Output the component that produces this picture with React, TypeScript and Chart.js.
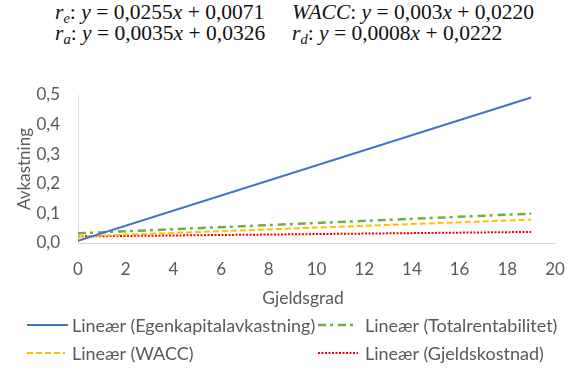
import React, { useEffect, useRef } from "react";
import { Chart, registerables } from "chart.js";

Chart.register(...registerables);

// Trendline endpoints (x = gjeldsgrad) taken from the regression equations
const gearing = [0, 19];
const egenkapital = [0.0071, 0.4916];
const totalrentabilitet = [0.0326, 0.0991];
const wacc = [0.022, 0.079];
const gjeldskostnad = [0.0222, 0.0374];

const seriesNames = [
  "Lineær (Egenkapitalavkastning)",
  "Lineær (Totalrentabilitet)",
  "Lineær (WACC)",
  "Lineær (Gjeldskostnad)",
];
const seriesColors = ["#4472C4", "#70AD47", "#FFC000", "#FF0000"];
const seriesDash: number[][] = [[], [8, 4, 3, 5], [6, 3], [2, 1.5]];
const seriesWidth = [2, 2.5, 2, 2];

const xMin = 0;
const xMax = 20;
const xStep = 2;
const yMin = 0;
const yMax = 0.5;
const yStep = 0.1;

const xTitle = "Gjeldsgrad";
const yTitle = "Avkastning";

const textGray = "#595959";
const uiFont = "Lato, 'Open Sans', sans-serif";

const toPoints = (ys: number[]) => gearing.map((x, i) => ({ x, y: ys[i] }));
const seriesValues = [egenkapital, totalrentabilitet, wacc, gjeldskostnad];

function Equation(props: { top: number; left: number; sym: React.ReactNode; slope: string; icept: string }) {
  return (
    <div
      style={{
        position: "absolute",
        left: props.left,
        top: props.top,
        fontFamily: "'Liberation Serif', 'DejaVu Serif', serif",
        fontSize: 21.5,
        lineHeight: "21px",
        color: "#111",
        whiteSpace: "nowrap",
      }}
    >
      {props.sym}: <i>y</i> = {props.slope}
      <i>x</i> + {props.icept}
    </div>
  );
}

const Sub = (p: { base: string; sub: string }) => (
  <span>
    <i>{p.base}</i>
    <i style={{ fontSize: "0.68em", verticalAlign: "-0.28em", lineHeight: 0 }}>{p.sub}</i>
  </span>
);

function LegendItem(props: { idx: number; left: number; top: number; sampleW: number; gap: number }) {
  const { idx } = props;
  return (
    <div
      style={{
        position: "absolute",
        left: props.left,
        top: props.top - 11,
        height: 22,
        display: "flex",
        alignItems: "center",
        fontFamily: uiFont,
        fontSize: 18,
        color: textGray,
        whiteSpace: "nowrap",
      }}
    >
      <svg width={props.sampleW} height={22} style={{ display: "block" }}>
        <line
          x1={0}
          y1={11}
          x2={props.sampleW}
          y2={11}
          stroke={seriesColors[idx]}
          strokeWidth={seriesWidth[idx]}
          strokeDasharray={seriesDash[idx].length ? seriesDash[idx].join(" ") : undefined}
        />
      </svg>
      <span style={{ marginLeft: props.gap }}>{seriesNames[idx]}</span>
    </div>
  );
}

export default function App() {
  const canvasRef = useRef<HTMLCanvasElement | null>(null);

  useEffect(() => {
    document.body.style.margin = "0";
    const canvas = canvasRef.current;
    if (!canvas) return;
    const chart = new Chart(canvas, {
      type: "scatter",
      data: {
        datasets: seriesValues.map((ys, i) => ({
          label: seriesNames[i],
          data: toPoints(ys),
          showLine: true,
          borderColor: seriesColors[i],
          backgroundColor: seriesColors[i],
          borderWidth: seriesWidth[i],
          borderDash: seriesDash[i],
          pointRadius: 0,
          pointHoverRadius: 0,
          fill: false,
        })),
      },
      options: {
        animation: false,
        responsive: false,
        maintainAspectRatio: false,
        layout: { padding: { left: 0, right: 18, top: 95, bottom: 0 } },
        plugins: { legend: { display: false }, tooltip: { enabled: false } },
        scales: {
          x: {
            type: "linear",
            min: xMin,
            max: xMax,
            grid: { display: false, drawTicks: false },
            border: { display: true, color: "#D9D9D9", width: 1 },
            ticks: {
              stepSize: xStep,
              padding: 16,
              color: textGray,
              font: { family: uiFont, size: 17 },
              maxRotation: 0,
            },
            afterFit: (scale: any) => {
              scale.height = 67;
              scale.paddingLeft = 0;
              scale.paddingRight = 0;
            },
          },
          y: {
            min: yMin,
            max: yMax,
            grid: { display: false, drawTicks: false },
            border: { display: true, color: "#D9D9D9", width: 1 },
            ticks: {
              stepSize: yStep,
              padding: 18,
              color: textGray,
              font: { family: uiFont, size: 17 },
              callback: (v: any) => Number(v).toFixed(1).replace(".", ","),
            },
            title: {
              display: true,
              text: yTitle,
              color: textGray,
              font: { family: uiFont, size: 17, weight: "normal" },
              padding: { top: 14, bottom: 0 },
            },
            afterFit: (scale: any) => {
              scale.width = 78;
            },
          },
        },
      },
    });
    return () => chart.destroy();
  }, []);

  return (
    <div style={{ position: "relative", width: 573, height: 372, background: "#fff", overflow: "hidden" }}>
      <Equation top={2} left={55} sym={<Sub base="r" sub="e" />} slope="0,0255" icept="0,0071" />
      <Equation top={2} left={292} sym={<i>WACC</i>} slope="0,003" icept="0,0220" />
      <Equation top={22.5} left={55} sym={<Sub base="r" sub="a" />} slope="0,0035" icept="0,0326" />
      <Equation top={22.5} left={292} sym={<Sub base="r" sub="d" />} slope="0,0008" icept="0,0222" />

      <canvas
        ref={canvasRef}
        width={573}
        height={310}
        style={{ position: "absolute", left: 0, top: 0, width: 573, height: 310 }}
      />

      <div
        style={{
          position: "absolute",
          left: 303,
          top: 287,
          transform: "translateX(-50%)",
          fontFamily: uiFont,
          fontSize: 17.5,
          lineHeight: "22px",
          color: textGray,
          whiteSpace: "nowrap",
        }}
      >
        {xTitle}
      </div>

      <LegendItem idx={0} left={27} top={325} sampleW={41} gap={4} />
      <LegendItem idx={1} left={318} top={325} sampleW={40} gap={7} />
      <LegendItem idx={2} left={27} top={353} sampleW={38} gap={7} />
      <LegendItem idx={3} left={318} top={353} sampleW={40} gap={7} />
    </div>
  );
}
